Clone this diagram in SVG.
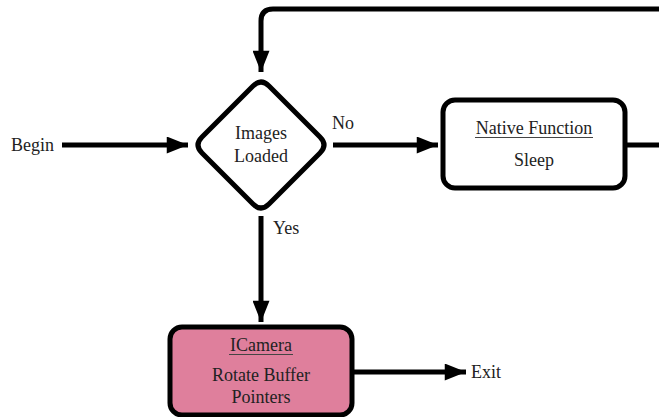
<svg xmlns="http://www.w3.org/2000/svg" width="659" height="417" viewBox="0 0 659 417">
  <style>
    .shape { fill: #ffffff; stroke: #000000; stroke-width: 5; stroke-linejoin: round; }
    .pink { fill: #df7f9c; }
    .wire { fill: none; stroke: #000000; stroke-width: 5; stroke-linejoin: round; }
    .mid { text-anchor: middle; }
    .ul { stroke: #444444; stroke-width: 1; }
    .lbl { font-family: Liberation Serif, DejaVu Serif, Times New Roman, serif; font-size: 18px; fill: #222222; }
  </style>
  <defs>
    <marker id="head" viewBox="0 0 10 8" refX="10" refY="4" markerWidth="4.6" markerHeight="3.4" markerUnits="strokeWidth" orient="auto">
      <path d="M0,0 L10,4 L0,8 Z" fill="#000000"/>
    </marker>
  </defs>

  <g id="connectors">
    <path class="wire" d="M62,145 H188" marker-end="url(#head)"/>
    <path class="wire" d="M333,145 H438" marker-end="url(#head)"/>
    <path class="wire" d="M625,145 H662"/>
    <path class="wire" d="M662,9 H273 Q261,9 261,21 V72" marker-end="url(#head)"/>
    <path class="wire" d="M261,216 V322" marker-end="url(#head)"/>
    <path class="wire" d="M353,372 H466" marker-end="url(#head)"/>
  </g>

  <g id="begin">
    <text class="lbl" x="11" y="151">Begin</text>
  </g>

  <g id="decision">
    <path class="shape" d="M253,86 Q261,78 269,86 L320,137 Q328,145 320,153 L269,204 Q261,212 253,204 L202,153 Q194,145 202,137 Z"/>
    <text class="lbl mid" x="261" y="139">Images</text>
    <text class="lbl mid" x="261" y="162">Loaded</text>
    <text class="lbl" x="332" y="129">No</text>
    <text class="lbl" x="273" y="234">Yes</text>
  </g>

  <g id="sleep">
    <rect class="shape" x="443" y="100" width="182" height="88" rx="12"/>
    <text class="lbl mid" x="534" y="134">Native Function</text>
    <line class="ul" x1="475" y1="137.5" x2="593" y2="137.5"/>
    <text class="lbl mid" x="534" y="166">Sleep</text>
  </g>

  <g id="camera">
    <rect class="shape pink" x="170" y="327" width="182" height="88" rx="12"/>
    <text class="lbl mid" x="261" y="351">ICamera</text>
    <line class="ul" x1="229" y1="354.5" x2="293" y2="354.5"/>
    <text class="lbl mid" x="261" y="381">Rotate Buffer</text>
    <text class="lbl mid" x="261" y="403">Pointers</text>
  </g>

  <g id="exit">
    <text class="lbl" x="471" y="378">Exit</text>
  </g>
</svg>
